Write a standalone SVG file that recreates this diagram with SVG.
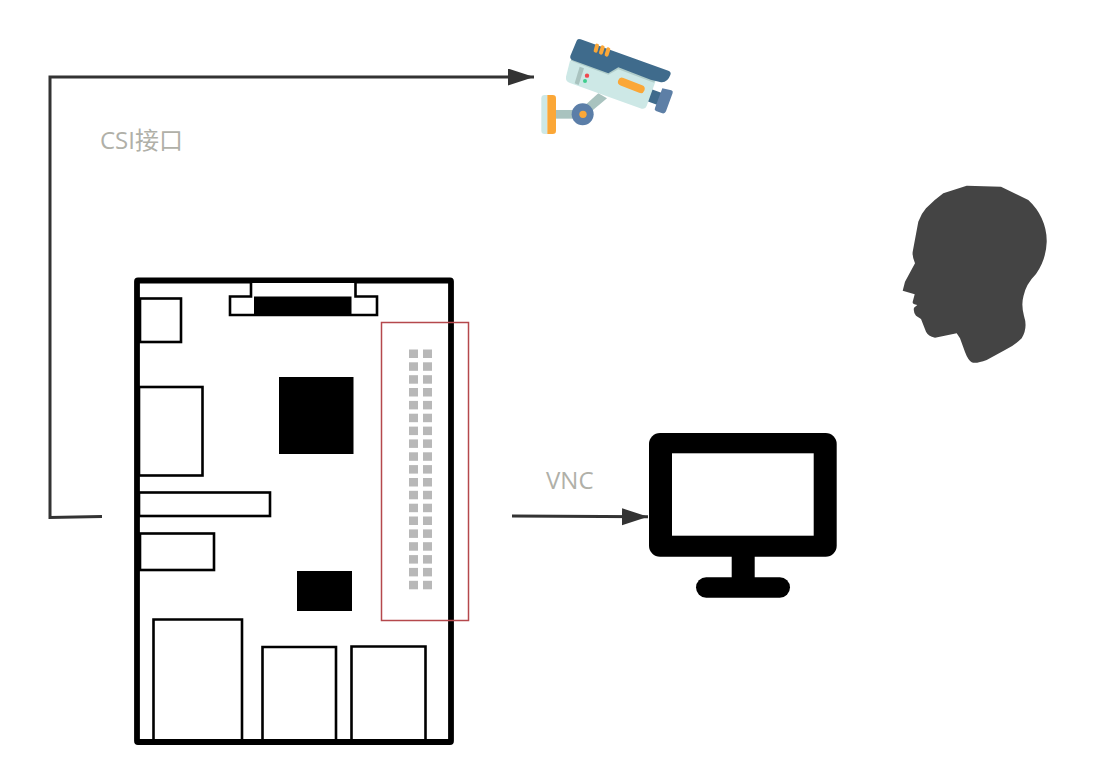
<svg xmlns="http://www.w3.org/2000/svg" width="1097" height="763" viewBox="0 0 1097 763">
  <style>
    .comp { fill: #fff; stroke: #000; stroke-width: 2.6; }
    .solid { fill: #000; }
    .pin { fill: #b8b8b8; }
    .wire { fill: none; stroke: #333; stroke-width: 3; stroke-linejoin: miter; }
    .label { font-family: "Open Sans", "Noto Sans CJK SC", sans-serif; font-size: 24px; fill: #b0b0a8; }
  </style>
  <defs>
    <marker id="arrow" markerUnits="userSpaceOnUse" markerWidth="27" markerHeight="18" refX="26" refY="8.5" orient="auto">
      <path d="M0 0 L26 8.5 L0 17 Z" fill="#333"/>
    </marker>
    <g id="pinpair">
      <rect class="pin" x="409" y="0" width="9" height="8.5"/>
      <rect class="pin" x="423" y="0" width="9" height="8.5"/>
    </g>
  </defs>
  <rect width="1097" height="763" fill="#fff"/>

  <g id="connectors">
    <path class="wire" d="M102 516.5 L50 517.5 L50 77 L534 77" marker-end="url(#arrow)"/>
    <path class="wire" d="M512 516 L648 516.8" marker-end="url(#arrow)"/>
  </g>

  <g id="board">
    <rect x="137" y="280.500" width="314" height="461.500" rx="1" fill="#fff" stroke="#000" stroke-width="5.800"/>
    <path d="M251 283 V296.500 H230 V315 H377 V296.500 H355.500 V283" fill="#fff" stroke="#000" stroke-width="2.600"/>
    <rect class="solid" x="254" y="296.500" width="97.500" height="18.500"/>
    <rect class="comp" x="140" y="298.500" width="41" height="43.500"/>
    <rect class="comp" x="139" y="387" width="63.500" height="88.500"/>
    <rect class="comp" x="139" y="492.500" width="131" height="23.500"/>
    <rect class="comp" x="140" y="533.500" width="74" height="36.500"/>
    <rect class="solid" x="279" y="377" width="74.500" height="77"/>
    <rect class="solid" x="297" y="571" width="55" height="40"/>
    <path class="comp" d="M153.500 739 V619.500 H242 V739"/>
    <path class="comp" d="M262.500 739 V647 H336 V739"/>
    <path class="comp" d="M351.500 739 V646.500 H425.500 V739"/>
  </g>

  <g id="gpio">
    <rect x="381.500" y="322.500" width="87" height="298" fill="none" stroke="#b5484c" stroke-width="1.500"/>
    <use href="#pinpair" y="349.500"/><use href="#pinpair" y="362.300"/><use href="#pinpair" y="375.200"/><use href="#pinpair" y="388"/><use href="#pinpair" y="400.900"/><use href="#pinpair" y="413.700"/><use href="#pinpair" y="426.600"/><use href="#pinpair" y="439.400"/><use href="#pinpair" y="452.300"/><use href="#pinpair" y="465.100"/><use href="#pinpair" y="478"/><use href="#pinpair" y="490.800"/><use href="#pinpair" y="503.700"/><use href="#pinpair" y="516.500"/><use href="#pinpair" y="529.400"/><use href="#pinpair" y="542.200"/><use href="#pinpair" y="555.100"/><use href="#pinpair" y="567.900"/><use href="#pinpair" y="580.800"/>
  </g>

  <g id="camera" transform="translate(530 30) scale(0.3333)">
    <path d="M365 178 L398 190 L385 226 L352 214 Z" fill="#3f6b8c"/>
    <path d="M397 175 L424 181 Q430 183 428 189 L408 244 Q405 252 397 250 L378 243 Q372 240 375 234 Z" fill="#5d7fa6"/>
    <path d="M205 190 L231 205 L182 246 L165 226 Z" fill="#a9c3bf"/>
    <rect x="72" y="240" width="60" height="26" fill="#a9c3bf"/>
    <path d="M120 92 L108 140 Q106 154 120 159 L335 236 Q346 239 350 228 L378 150 L265 108 L235 125 Z" fill="#cde8e6"/>
    <path d="M122 92 L235 134 L265 118 L372 158 L378 148 L265 105 L235 122 L125 84 Z" fill="#b0cdca"/>
    <path d="M149 110 L162 115 L146 165 L134 160 Z" fill="#a9c3bf"/>
    <path d="M140 32 Q143 24 152 28 L415 122 Q425 126 421 135 Q412 160 390 156 L362 149 L265 112 L235 130 L128 91 Q119 87 121 78 Z" fill="#3f6b8c"/>
    <path d="M201 47 L197 62 M218 52 L213 68 M235 58 L230 74" fill="none" stroke="#fba737" stroke-width="12" stroke-linecap="round"/>
    <path d="M276 155 L332 177" fill="none" stroke="#fba737" stroke-width="24" stroke-linecap="round"/>
    <circle cx="171" cy="137" r="6.500" fill="#f0484f"/>
    <circle cx="165" cy="153" r="6" fill="#3fce8f"/>
    <circle cx="158" cy="253" r="33" fill="#5b7ea8"/>
    <circle cx="159" cy="253" r="11" fill="#fba737"/>
    <path d="M52 195 H44 Q34 195 34 205 V302 Q34 312 44 312 H52 Z" fill="#cde8e6"/>
    <path d="M52 195 H68 Q78 195 78 205 V302 Q78 312 68 312 H52 Z" fill="#fba737"/>
  </g>

  <g id="head">
    <path d="M966.700 185.700 L1001 186.700 L1028.300 200 Q1037 208 1041.700 218.300 Q1047 230 1046.700 242 Q1046 260 1036 274 Q1026 284 1023.500 296 Q1021 305 1024 316 Q1028 328 1021.700 338.300 Q1015 345 1005 350 L986.700 360 Q976 364 971.700 362.300 Q968 360 965 352 L960 338.300 L956.700 333.300 L935 337.700 Q928 336 926 331.700 L921 319 L916 315.700 Q913 312 914 307.700 L917.300 305 Q912 304 912.700 301.700 L914.700 294.300 L902.700 290.700 L905 281.700 L915 263.300 Q912 256 912.700 251.700 L918.300 221.700 Q921 214 926 208.300 Q934 200 943.300 193.300 Z" fill="#444"/>
  </g>

  <g id="monitor">
    <rect x="731.700" y="550" width="23" height="32" fill="#000"/>
    <rect x="696" y="577.300" width="94" height="20.400" rx="10.200" fill="#000"/>
    <rect x="649" y="433" width="187.700" height="123.700" rx="11" fill="#000"/>
    <rect x="672" y="453.300" width="141.700" height="82.400" fill="#fff"/>
  </g>

  <g id="labels">
    <text class="label" x="100" y="148.500">CSI接口</text>
    <text class="label" x="546" y="488.500">VNC</text>
  </g>
</svg>
